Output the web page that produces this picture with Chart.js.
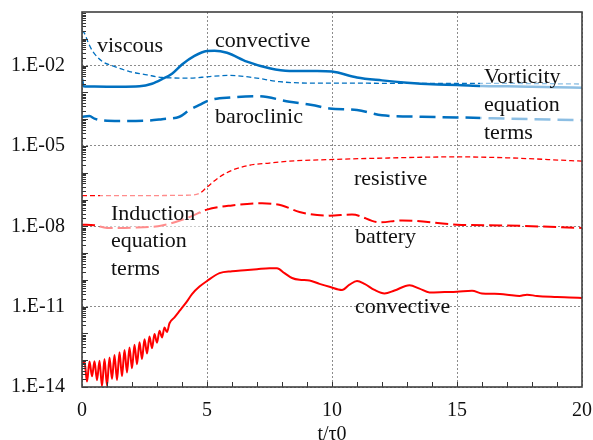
<!DOCTYPE html>
<html><head><meta charset="utf-8">
<script src="https://cdn.jsdelivr.net/npm/chart.js@4"></script>
<style>html,body{margin:0;padding:0;background:#fff}#wrap{width:593px;height:440px}</style>
</head><body><div id="wrap"><canvas id="c" width="593" height="440"></canvas></div>
<script>
// ---- Vorticity equation terms ----
const tVortConv = [0,0.06,0.5,1.5,2.3,2.8,3.2,3.6,4.0,4.5,5.0,5.3,5.8,6.6,7.5,8.3,9.4,10,11,12,13,14,15,16,17,18,19,20];
const vortConv  = [3.2e-3,1.7e-3,1.65e-3,1.62e-3,1.68e-3,2.1e-3,3.1e-3,5.0e-3,1.1e-2,2.3e-2,3.5e-2,3.6e-2,3.0e-2,1.4e-2,7.9e-3,6.3e-3,6.3e-3,6.0e-3,3.6e-3,2.8e-3,2.3e-3,2.0e-3,1.9e-3,1.74e-3,1.68e-3,1.62e-3,1.56e-3,1.5e-3];
const tVisc = [0,0.1,0.25,0.43,0.83,1.2,1.9,2.6,3.2,4.3,5.1,5.9,6.9,7.9,9.4,11,13,15,17,20];
const visc  = [0.2,0.16,7.1e-2,3.4e-2,1.4e-2,1.0e-2,6.0e-3,4.5e-3,3.6e-3,3.4e-3,3.9e-3,4.3e-3,3.5e-3,2.5e-3,2.2e-3,2.2e-3,2.15e-3,2.15e-3,2.15e-3,2.05e-3];
const tBaro = [0,0.3,0.5,0.8,1.5,2.5,3.2,3.9,4.3,4.7,5.1,6.0,7.0,8.3,9.2,9.9,11,12,13.6,15,17,20];
const baro  = [1.23e-4,1.3e-4,1.05e-4,9.0e-5,8.5e-5,8.7e-5,1.0e-4,1.23e-4,2.2e-4,3.4e-4,5.1e-4,6.5e-4,7.2e-4,4.5e-4,3.4e-4,2.5e-4,2.2e-4,1.4e-4,1.23e-4,1.16e-4,1.05e-4,9.1e-5];
// ---- Induction equation terms ----
const tResist = [0,2,4.3,4.7,5.0,5.5,6.0,6.7,7.5,8.3,9.9,12,15,17,20];
const resist  = [1.4e-7,1.4e-7,1.45e-7,1.7e-7,2.9e-7,6.9e-7,1.23e-6,1.9e-6,2.3e-6,2.7e-6,3.1e-6,3.5e-6,3.9e-6,3.6e-6,2.7e-6];
const tBatt = [0,0.5,1.0,2.0,3.2,4.3,5.0,6.0,7.2,8.0,8.7,9.9,10.8,11.9,12.8,15,17,20];
const batt  = [1.15e-8,1.1e-8,8.7e-9,8.9e-9,1.07e-8,2.2e-8,4.2e-8,6.0e-8,7.2e-8,6.0e-8,3.4e-8,2.5e-8,2.75e-8,1.4e-8,1.66e-8,1.15e-8,1.07e-8,8.7e-9];
const tIndConv = [0,0.1,0.2,0.3,0.4,0.5,0.6,0.7,0.8,0.9,1.0,1.1,1.2,1.3,1.4,1.5,1.6,1.7,1.8,1.9,2.0,2.1,2.2,2.3,2.4,2.5,2.6,2.7,2.8,2.9,3.0,3.1,3.2,3.3,3.4,3.5,
  3.7,3.9,4.2,4.4,4.7,5.0,5.5,6.0,6.5,7.0,7.5,7.8,8.1,8.4,8.7,9.1,9.5,9.9,10.4,10.7,11.0,11.3,11.7,12.1,12.5,13.1,13.5,13.9,14.5,15.0,15.6,16.0,16.5,17.0,17.5,17.8,18.2,19.0,19.5,20.0];
const indConv = [7.0e-14,8.9e-14,1.6e-14,8.9e-14,2.5e-14,9.1e-14,1.8e-14,9.5e-14,1.07e-14,1.12e-13,
  1.12e-14,1.26e-13,2.0e-14,1.58e-13,1.8e-14,2.0e-13,2.5e-14,2.4e-13,3.5e-14,3.0e-13,
  5.0e-14,3.8e-13,7.1e-14,4.7e-13,1.12e-13,6.0e-13,1.78e-13,7.6e-13,2.8e-13,9.5e-13,
  4.5e-13,1.26e-12,7.1e-13,1.66e-12,1.12e-12,2.4e-12,
  4.0e-12,6.9e-12,1.58e-11,2.95e-11,5.6e-11,9.1e-11,1.78e-10,2.1e-10,2.3e-10,2.5e-10,
  2.7e-10,2.7e-10,1.78e-10,1.17e-10,1.0e-10,9.5e-11,7.1e-11,5.5e-11,4.2e-11,6.6e-11,
  9.1e-11,7.1e-11,4.2e-11,3.1e-11,4.0e-11,6.3e-11,4.7e-11,3.4e-11,3.5e-11,3.6e-11,
  3.9e-11,3.1e-11,3.0e-11,2.8e-11,2.5e-11,2.8e-11,2.5e-11,2.3e-11,2.2e-11,2.1e-11];

// ---- axes ----
const xTicks = [0,5,10,15,20];
const yTickValues = [1e-14,1e-11,1e-8,1e-5,1e-2];
const yTickLabels = ['1.E-14','1.E-11','1.E-08','1.E-05','1.E-02'];
const xTitle = 't/\u03C40';

// ---- text annotations ----
const labels = [
  {text:'viscous', x:97, y:52},
  {text:'convective', x:215, y:47},
  {text:'baroclinic', x:215, y:123},
  {text:'Vorticity', x:484, y:83},
  {text:'equation', x:484, y:111},
  {text:'terms', x:484, y:139},
  {text:'resistive', x:354, y:185},
  {text:'Induction', x:111, y:220},
  {text:'equation', x:111, y:247},
  {text:'terms', x:111, y:275},
  {text:'battery', x:355, y:243},
  {text:'convective', x:355, y:313}
];
const boxes = [[480,66,103,78],[100,190,100,92]];

const BLUE = '#0070C0', RED = '#FF0000';
const pts = (t, v) => t.map((x, i) => ({x: x, y: v[i]}));

const decorPlugin = {
  id: 'decor',
  afterDatasetsDraw(chart) {
    const ctx = chart.ctx;
    ctx.save();
    ctx.fillStyle = 'rgba(255,255,255,0.55)';
    boxes.forEach(b => ctx.fillRect(b[0], b[1], b[2], b[3]));
    ctx.fillStyle = '#111';
    ctx.font = '22px "Liberation Serif", "Times New Roman", serif';
    ctx.textBaseline = 'alphabetic';
    ctx.textAlign = 'left';
    labels.forEach(l => ctx.fillText(l.text, l.x, l.y));
    ctx.restore();
  },
  afterDraw(chart) {
    const ctx = chart.ctx, a = chart.chartArea;
    const xs = chart.scales.x, ys = chart.scales.y;
    ctx.save();
    ctx.strokeStyle = '#333';
    ctx.lineWidth = 1;
    ctx.beginPath();
    for (let t = 1; t < 20; t++) {
      const px = Math.round(xs.getPixelForValue(t)) + 0.5;
      ctx.moveTo(px, a.bottom); ctx.lineTo(px, a.bottom - 5);
    }
    for (let k = -14; k < 0; k++) {
      for (let m = 1; m < 10; m++) {
        const v = m * Math.pow(10, k);
        const py = Math.round(ys.getPixelForValue(v)) + 0.5;
        ctx.moveTo(a.left, py); ctx.lineTo(a.left + (m === 1 ? 6 : 4), py);
      }
    }
    ctx.stroke();
    ctx.strokeStyle = '#404040';
    ctx.lineWidth = 1.6;
    ctx.strokeRect(a.left, a.top, a.right - a.left, a.bottom - a.top);
    ctx.restore();
  }
};

new Chart(document.getElementById('c'), {
  type: 'line',
  data: {
    datasets: [
      {label:'viscous', data: pts(tVisc, visc), borderColor: BLUE, borderWidth: 1.3, borderDash:[5,3]},
      {label:'convective (vorticity)', data: pts(tVortConv, vortConv), borderColor: BLUE, borderWidth: 2.5},
      {label:'baroclinic', data: pts(tBaro, baro), borderColor: BLUE, borderWidth: 2.5, borderDash:[16,7]},
      {label:'resistive', data: pts(tResist, resist), borderColor: RED, borderWidth: 1.3, borderDash:[5,3]},
      {label:'battery', data: pts(tBatt, batt), borderColor: RED, borderWidth: 2, borderDash:[13,5]},
      {label:'convective (induction)', data: pts(tIndConv, indConv), borderColor: RED, borderWidth: 2}
    ]
  },
  options: {
    responsive: false,
    animation: false,
    devicePixelRatio: 1,
    layout: {padding: {left: 0, right: 11, top: 12, bottom: 0}},
    elements: {point: {radius: 0}, line: {cubicInterpolationMode: 'monotone', fill: false}},
    plugins: {legend: {display: false}, tooltip: {enabled: false}},
    scales: {
      x: {
        type: 'linear', min: 0, max: 20,
        afterFit(s) { s.height = 53; s.paddingLeft = 0; s.paddingRight = 0; },
        afterBuildTicks(s) { s.ticks = xTicks.map(v => ({value: v})); },
        grid: {color: '#8c8c8c', lineWidth: 1, drawTicks: false},
        border: {display: false, dash: [2, 2]},
        ticks: {padding: 12, color: '#111', font: {family: '"Liberation Serif", serif', size: 20}, maxRotation: 0},
        title: {display: true, text: xTitle, color: '#111', font: {family: '"Liberation Serif", serif', size: 20, lineHeight: 1}, padding: {top: 0, bottom: -5}}
      },
      y: {
        type: 'logarithmic', min: 1e-14, max: 1,
        afterFit(s) { s.width = 82; s.paddingTop = 0; s.paddingBottom = 0; },
        afterBuildTicks(s) { s.ticks = yTickValues.map(v => ({value: v})); },
        grid: {color: '#8c8c8c', lineWidth: 1, drawTicks: false},
        border: {display: false, dash: [2, 2]},
        ticks: {
          padding: 17, color: '#111', font: {family: '"Liberation Serif", serif', size: 20},
          callback: (v) => { const i = yTickValues.indexOf(v); return i >= 0 ? yTickLabels[i] : ''; }
        }
      }
    }
  },
  plugins: [decorPlugin]
});
</script></body></html>
